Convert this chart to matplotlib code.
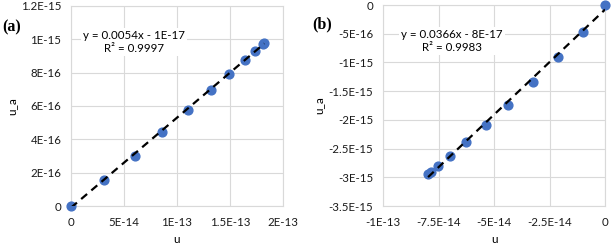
import matplotlib.pyplot as plt
import numpy as np

plt.rcParams['font.family'] = ['Lato', 'DejaVu Sans']

# panel (a)
u_a_x = [0, 3.13e-14, 6.02e-14, 8.62e-14, 1.107e-13, 1.317e-13, 1.495e-13, 1.64e-13, 1.74e-13, 1.809e-13, 1.824e-13]
u_a_y = [0, 1.54e-16, 3.03e-16, 4.47e-16, 5.77e-16, 6.93e-16, 7.92e-16, 8.76e-16, 9.32e-16, 9.72e-16, 9.80e-16]
fit_a = (0.0054, -1e-17)
eq_a = 'y = 0.0054x - 1E-17\nR² = 0.9997'
xt_a = [0, 5e-14, 1e-13, 1.5e-13, 2e-13]
xl_a = ['0', '5E-14', '1E-13', '1.5E-13', '2E-13']
yt_a = [0, 2e-16, 4e-16, 6e-16, 8e-16, 1e-15, 1.2e-15]
yl_a = ['0', '2E-16', '4E-16', '6E-16', '8E-16', '1E-15', '1.2E-15']

# panel (b)
u_b_x = [0, -1.006e-14, -2.12e-14, -3.26e-14, -4.35e-14, -5.36e-14, -6.26e-14, -6.97e-14, -7.52e-14, -7.85e-14, -7.97e-14]
u_b_y = [0, -4.65e-16, -9.13e-16, -1.343e-15, -1.733e-15, -2.087e-15, -2.384e-15, -2.628e-15, -2.797e-15, -2.913e-15, -2.948e-15]
fit_b = (0.0366, -8e-17)
eq_b = 'y = 0.0366x - 8E-17\nR² = 0.9983'
xt_b = [-1e-13, -7.5e-14, -5e-14, -2.5e-14, 0]
xl_b = ['-1E-13', '-7.5E-14', '-5E-14', '-2.5E-14', '0']
yt_b = [-3.5e-15, -3e-15, -2.5e-15, -2e-15, -1.5e-15, -1e-15, -5e-16, 0]
yl_b = ['-3.5E-15', '-3E-15', '-2.5E-15', '-2E-15', '-1.5E-15', '-1E-15', '-5E-16', '0']

fig = plt.figure(figsize=(6.14, 2.45), dpi=100)
W, H = 614, 245


def panel(box, xs, ys, fit, eq, eq_pos, xt, xl, yt, yl, tag, tag_pos, ylab_x):
    l, r, t, b = box
    ax = fig.add_axes([l / W, 1 - b / H, (r - l) / W, (b - t) / H])
    ax.set_xlim(xt[0], xt[-1])
    ax.set_ylim(yt[0], yt[-1])
    ax.set_xticks(xt)
    ax.set_xticklabels(xl)
    ax.set_yticks(yt)
    ax.set_yticklabels(yl)
    ax.grid(True, color='#d9d9d9', lw=0.8)
    for s in ax.spines.values():
        s.set_color('#d9d9d9')
        s.set_linewidth(0.8)
    ax.tick_params(length=0, labelsize=8.3, colors='#1a1a1a')
    ax.tick_params(axis='x', pad=8)
    ax.tick_params(axis='y', pad=7)
    ax.set_axisbelow(True)
    ax.scatter(xs, ys, s=40, color='#4472c4', zorder=3, clip_on=False)
    fx = np.array([min(xs), max(xs)])
    ax.plot(fx, fit[0] * fx + fit[1], color='black', ls=(0, (3.5, 2.5)), lw=1.6, zorder=4)
    ax.text(eq_pos[0] / W, 1 - eq_pos[1] / H, eq, transform=fig.transFigure, ha='center', va='center',
            fontsize=8.3, linespacing=1.25,
            bbox=dict(facecolor='white', edgecolor='none', pad=1.5))
    fig.text(tag_pos[0] / W, 1 - tag_pos[1] / H, tag, family='Liberation Serif', fontweight='bold',
             fontsize=11.5, ha='left', va='center')
    fig.text(ylab_x / W, 1 - ((t + b) / 2) / H, 'u_a', rotation=90, ha='center', va='center', fontsize=8.5)
    fig.text(((l + r) / 2) / W, 1 - 239 / H, 'u', ha='center', va='center', fontsize=8.5)
    return ax


panel((71, 283, 6, 206), u_a_x, u_a_y, fit_a, eq_a, (134, 42), xt_a, xl_a, yt_a, yl_a, '(a)', (2, 27), 12)
panel((383, 605, 5, 206), u_b_x, u_b_y, fit_b, eq_b, (452, 41), xt_b, xl_b, yt_b, yl_b, '(b)', (312, 24), 319)

fig.savefig('out.png', dpi=100)
